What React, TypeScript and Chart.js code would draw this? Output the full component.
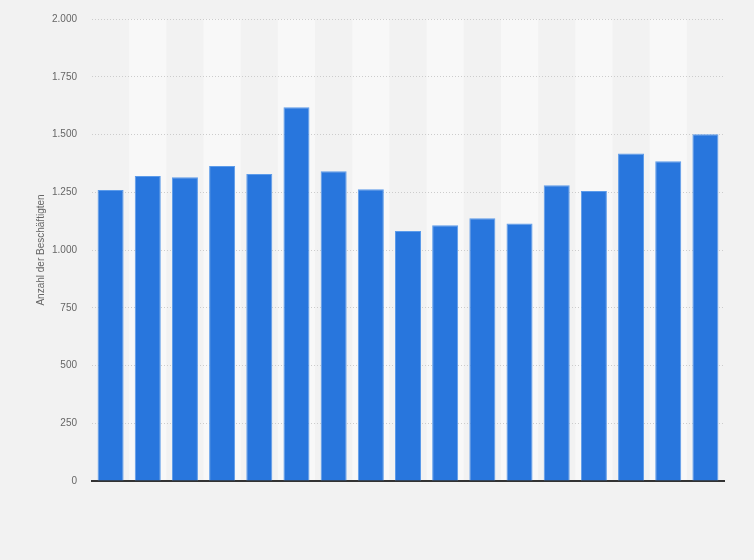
import React, { useEffect, useRef } from "react";
import { Chart, registerables } from "chart.js";

Chart.register(...registerables);

const categories: string[] = ["", "", "", "", "", "", "", "", "", "", "", "", "", "", "", "", ""];
const employees: number[] = [1260, 1320, 1315, 1364, 1329, 1618, 1341, 1263, 1082, 1107, 1137, 1115, 1280, 1255, 1418, 1384, 1501];
const yTicks: number[] = [0, 250, 500, 750, 1000, 1250, 1500, 1750, 2000];
const yTitle = "Anzahl der Beschäftigten";

const fmt = (v: number) => {
  const s = Math.round(v).toString();
  return s.replace(/\B(?=(\d{3})+(?!\d))/g, ".");
};

const bgPlugin = {
  id: "bg",
  beforeDraw(chart: any) {
    const { ctx, width, height, chartArea, scales } = chart;
    ctx.save();
    ctx.fillStyle = "#f2f2f2";
    ctx.fillRect(0, 0, width, height);
    const x = scales.x;
    const n = categories.length;
    const w = (chartArea.right - chartArea.left) / n;
    ctx.fillStyle = "#f8f8f8";
    for (let i = 1; i < n; i += 2) {
      const cx = x.getPixelForValue(i);
      ctx.fillRect(cx - w / 2, chartArea.top, w, chartArea.bottom - chartArea.top);
    }
    ctx.restore();
  },
};

export default function App() {
  const ref = useRef<HTMLCanvasElement | null>(null);
  useEffect(() => {
    document.body.style.margin = "0";
    const canvas = ref.current;
    if (!canvas) return;
    const chart = new Chart(canvas, {
      type: "bar",
      data: {
        labels: categories,
        datasets: [
          {
            data: employees,
            backgroundColor: "#2876dd",
            borderColor: "#5c9bea",
            borderWidth: 1,
            barPercentage: 0.7,
            categoryPercentage: 1,
          },
        ],
      },
      options: {
        animation: false,
        responsive: false,
        maintainAspectRatio: false,
        layout: { padding: { left: 0, right: 30, top: 19, bottom: 79 } },
        plugins: { legend: { display: false }, tooltip: { enabled: false } },
        scales: {
          x: {
            grid: { display: false, drawTicks: false },
            ticks: { display: false },
            border: { display: true, color: "#333333", width: 2 },
            afterFit(scale: any) {
              scale.height = 0;
              scale.paddingLeft = 0;
              scale.paddingRight = 0;
            },
          },
          y: {
            min: 0,
            max: 2000,
            afterBuildTicks(scale: any) {
              scale.ticks = yTicks.map((v) => ({ value: v }));
            },
            afterFit(scale: any) {
              scale.width = 92;
              scale.paddingTop = 0;
              scale.paddingBottom = 0;
            },
            grid: {
              color: "#cccccc",
              drawTicks: false,
              lineWidth: 1,
            },
            border: { display: false, dash: [1, 2] },
            ticks: {
              padding: 15,
              color: "#666666",
              font: { family: "'Liberation Sans', Arial, sans-serif", size: 10 },
              callback: (v: any) => fmt(Number(v)),
            },
            title: {
              display: true,
              text: yTitle,
              color: "#666666",
              font: { family: "'Liberation Sans', Arial, sans-serif", size: 10 },
              padding: { top: 35, bottom: 0 },
            },
          },
        },
      },
      plugins: [bgPlugin],
    });
    return () => chart.destroy();
  }, []);
  return (
    <div style={{ width: 754, height: 560 }}>
      <canvas ref={ref} width={754} height={560} style={{ display: "block" }} />
    </div>
  );
}
